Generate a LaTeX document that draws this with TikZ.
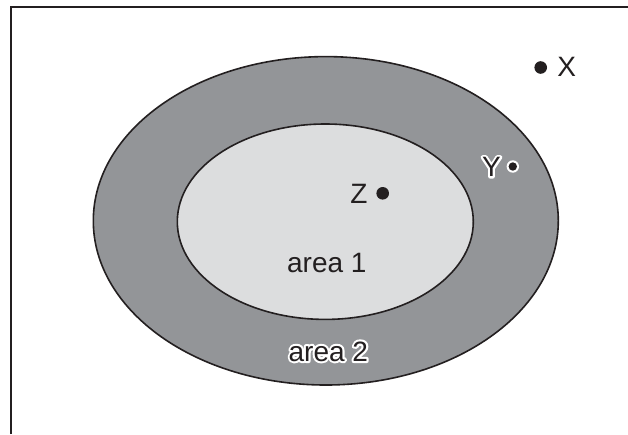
\documentclass[tikz,border=0pt]{standalone}
\usepackage{fontspec}
\setmainfont{Liberation Sans}
\definecolor{ink}{HTML}{231F20}
\definecolor{ringgray}{HTML}{939598}
\definecolor{coregray}{HTML}{DCDDDE}
% text drawn with a stroke round each glyph (fill and stroke, render mode 2)
\newcommand{\strk}[2]{\special{pdf:literal direct #1 w 1 j 2 Tr}#2\special{pdf:literal direct 0 Tr}}
\tikzset{
  lbl/.style={inner sep=0pt, anchor=base, text=ink, font=\fontsize{28}{33}\selectfont},
  halo/.style={inner sep=0pt, anchor=base, text=white, font=\fontsize{28}{33}\selectfont},
  region/.style={draw=ink, line width=1.6pt},
  frame/.style={draw=ink, line width=2.2pt},
  dot/.style={fill=ink, draw=none}
}
\newcommand{\halotext}[3]{%
  \node[halo] at (#1) {\strk{4.2}{#3}};
  \node[lbl] (#2) at (#1) {#3};}
\begin{document}
\begin{tikzpicture}[x=1pt,y=-1pt]
\useasboundingbox (0,0) rectangle (628,434);
\fill[white] (0,0) rectangle (628,434);
% frame (cut off at right and bottom)
\draw[frame] (11,434) -- (11,7) -- (628,7);
% regions
\draw[region, fill=ringgray] (325.8,220.8) ellipse [x radius=232.5, y radius=164.2];
\draw[region, fill=coregray] (325.3,221.7) ellipse [x radius=148, y radius=97.7];
% points
\fill[dot] (540.7,67.5) circle (6.3);
\node[lbl] (X) at (566.7,76) {X};
\fill[dot] (382.7,193.3) circle (6.3);
\node[lbl] (Z) at (359,203.3) {Z};
\fill[white] (512.8,166.5) circle (6.2);
\fill[dot] (512.8,166.5) circle (4.2);
\halotext{491.5,176.5}{Y}{Y}
% area labels
\node[lbl] (a1) at (326.8,272.7) {area 1};
\halotext{328.3,361}{a2}{area 2}
\end{tikzpicture}
\end{document}
